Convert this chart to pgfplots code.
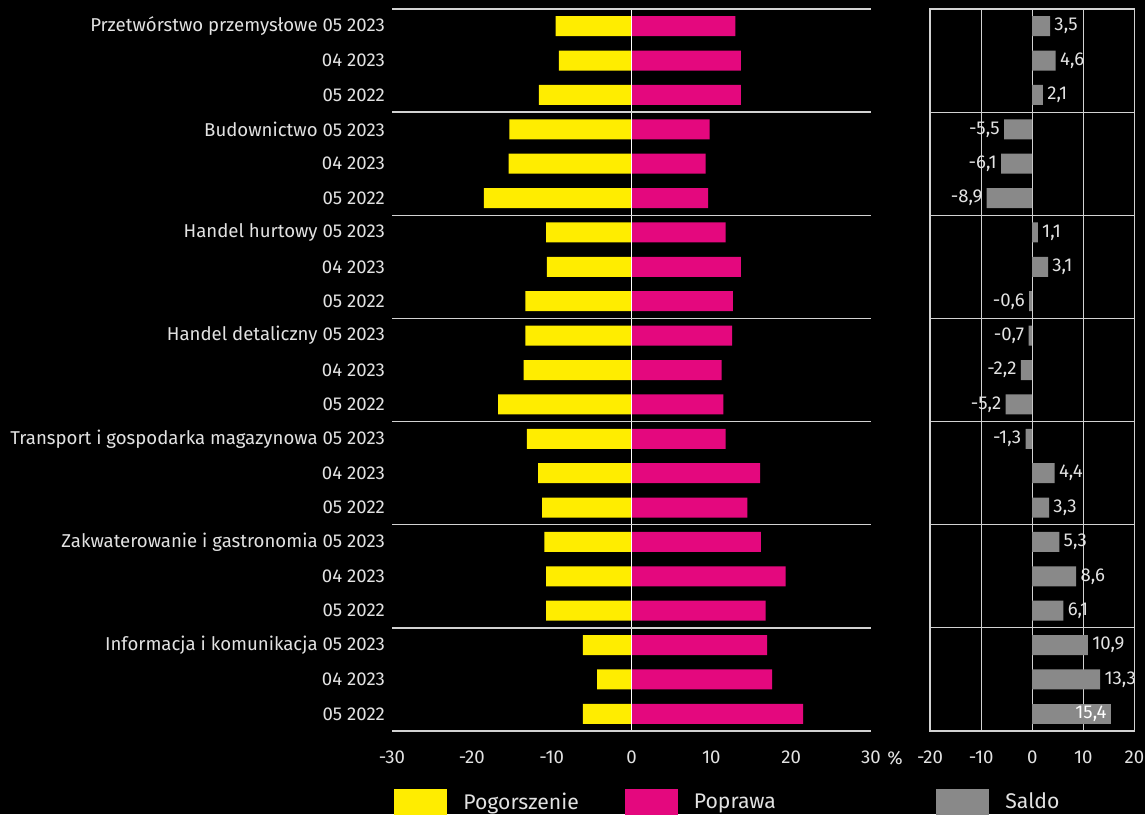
\documentclass[border=0pt]{standalone}
\usepackage{fontspec}
\setmainfont{Fira Sans}
\usepackage{pgfplots}
\pgfplotsset{compat=1.18}
\usepackage{pgfplotstable}

\definecolor{pogyel}{HTML}{FFED00}
\definecolor{popmag}{HTML}{E4087E}
\definecolor{saldo}{HTML}{898989}
\definecolor{txt}{HTML}{E2E2E2}
\definecolor{sep}{HTML}{D2D2D2}

% row: 1 = top; pog = Pogorszenie (negative), pop = Poprawa, saldo
\pgfplotstableread{
row pog pop saldo
1 -9.5 13.0 3.5
2 -9.1 13.7 4.6
3 -11.6 13.7 2.1
4 -15.3 9.8 -5.5
5 -15.4 9.3 -6.1
6 -18.5 9.6 -8.9
7 -10.7 11.8 1.1
8 -10.6 13.7 3.1
9 -13.3 12.7 -0.6
10 -13.3 12.6 -0.7
11 -13.5 11.3 -2.2
12 -16.7 11.5 -5.2
13 -13.1 11.8 -1.3
14 -11.7 16.1 4.4
15 -11.2 14.5 3.3
16 -10.9 16.2 5.3
17 -10.7 19.3 8.6
18 -10.7 16.8 6.1
19 -6.1 17.0 10.9
20 -4.3 17.6 13.3
21 -6.1 21.5 15.4
}\datatable

\newcommand{\fs}{\fontsize{9.3}{11}\selectfont}
\newcommand{\fl}{\fontsize{10.6}{12}\selectfont}

\pgfplotsset{
  panel/.style={
    scale only axis, height=361pt, anchor=south west,
    y dir=reverse, ymin=0.5, ymax=21.5,
    xbar, bar width=10pt, bar shift=0pt,
    axis line style={draw=none}, major tick length=0pt,
    tick label style={font=\fs, text=txt},
    /pgf/number format/assume math mode=true,
    xticklabel style={yshift=-6.5pt},
    grid style={sep, line width=0.7pt},
    extra y ticks={0.5,3.5,...,21.5}, extra y tick labels={},
    extra y tick style={grid=major},
    legend columns=2,
    legend image code/.code={\fill[##1] (0pt,-9pt) rectangle (26.5pt,6.5pt);},
    legend style={at={(0,0)}, anchor=north west, yshift=-29pt,
      draw=none, fill=none, inner sep=0pt, font=\fl, text=txt,
      column sep=0pt, nodes={inner ysep=0pt},
      /tikz/every odd column/.append style={column sep=6pt},
      /tikz/every even column/.append style={column sep=21pt}},
  }
}

\begin{document}
\begin{tikzpicture}
\path[use as bounding box, fill=black] (0,0) rectangle (572.5pt,407pt);

\begin{axis}[panel, at={(196pt,41.5pt)}, width=239.5pt,
  xmin=-30, xmax=30, xtick={-30,-20,...,30},
  ytick={1,...,21},
  yticklabels={Przetwórstwo przemysłowe 05 2023, 04 2023, 05 2022,
    Budownictwo 05 2023, 04 2023, 05 2022,
    Handel hurtowy 05 2023, 04 2023, 05 2022,
    Handel detaliczny 05 2023, 04 2023, 05 2022,
    Transport i gospodarka magazynowa 05 2023, 04 2023, 05 2022,
    Zakwaterowanie i gastronomia 05 2023, 04 2023, 05 2022,
    Informacja i komunikacja 05 2023, 04 2023, 05 2022},
  extra x ticks={0}, extra x tick labels={},
  extra x tick style={grid=major, grid style={white, line width=0.5pt}},
  axis on top, clip=false,
  legend style={xshift=1pt},
]
\addplot[fill=pogyel, draw=none] table[x=pog, y=row] {\datatable};
\addlegendentry{Pogorszenie}
\addplot[fill=popmag, draw=none] table[x=pop, y=row] {\datatable};
\addlegendentry{Poprawa}
\node[anchor=north, font=\fs, text=txt, yshift=-6.5pt, inner sep=0.333em]
  at (rel axis cs:1,0) [xshift=12pt] {\%};
\end{axis}

\begin{axis}[panel, at={(465pt,41.5pt)}, width=102.2pt,
  xmin=-20, xmax=20, xtick={-20,-10,...,20}, ytick=\empty,
  axis line style={draw=sep, line width=0.6pt},
  grid style={sep, line width=0.6pt},
  xmajorgrids, clip=false,
  point meta=x,
  nodes near coords={\pgfmathprintnumber[fixed,fixed zerofill,precision=1,use comma]{\pgfplotspointmeta}},
  nodes near coords align=horizontal,
  nodes near coords style={font=\fs, text=txt, inner sep=2pt},
  legend style={xshift=3pt},
]
\addplot[fill=saldo, draw=none, skip coords between index={20}{21}]
  table[x=saldo, y=row] {\datatable};
\addlegendentry{Saldo}
\addplot[fill=saldo, draw=none, forget plot,
  every node near coord/.append style={anchor=east, text=white}]
  coordinates {(15.4,21)};
\end{axis}
\end{tikzpicture}
\end{document}
